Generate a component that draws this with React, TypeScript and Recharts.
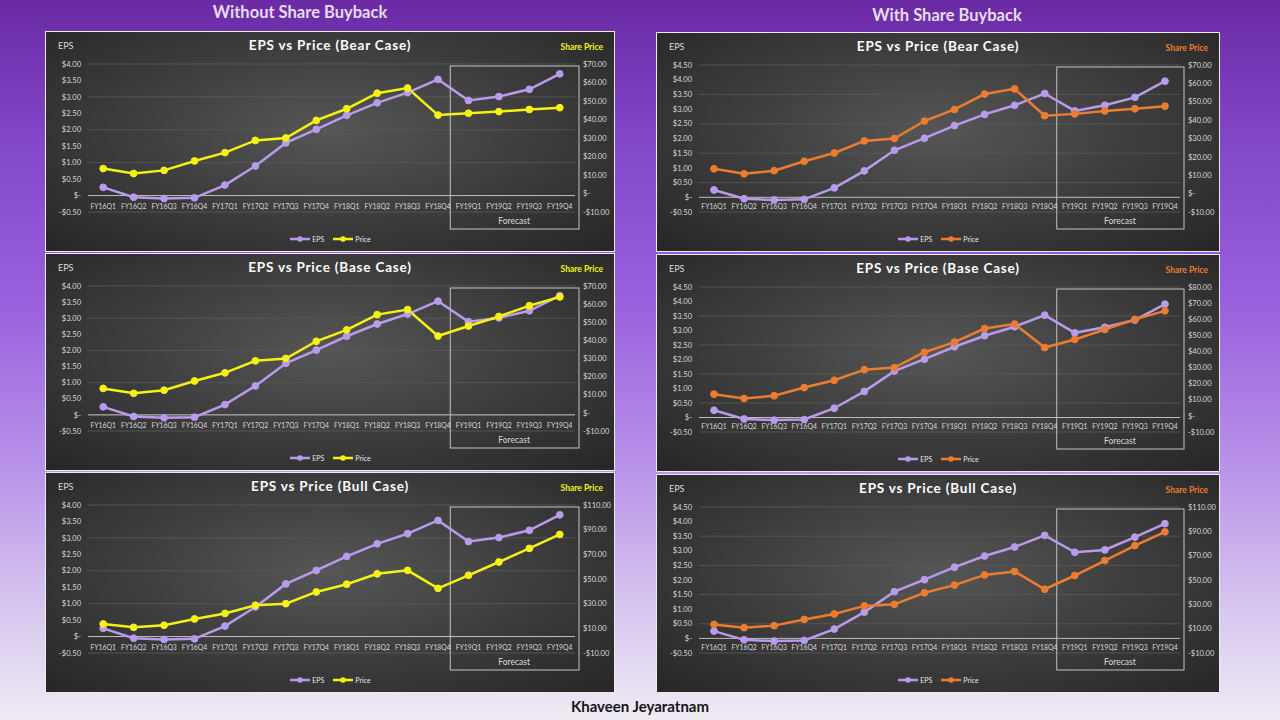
import React from 'react';
import {
  LineChart,
  Line,
  XAxis,
  YAxis,
  CartesianGrid,
  ReferenceLine,
  ReferenceArea,
} from 'recharts';

const quarters = [
  'FY16Q1', 'FY16Q2', 'FY16Q3', 'FY16Q4',
  'FY17Q1', 'FY17Q2', 'FY17Q3', 'FY17Q4',
  'FY18Q1', 'FY18Q2', 'FY18Q3', 'FY18Q4',
  'FY19Q1', 'FY19Q2', 'FY19Q3', 'FY19Q4',
];
const forecastStart = 'FY19Q1';
const forecastEnd = 'FY19Q4';

// without share buyback
const epsNoBuyback = [0.25, -0.05, -0.09, -0.07, 0.32, 0.9, 1.6, 2.01, 2.44, 2.82, 3.13, 3.53, 2.89, 3.01, 3.23, 3.7];
const priceBearNoBuyback = [13.5, 10.8, 12.5, 17.6, 22.1, 28.7, 30.0, 39.5, 45.8, 54.2, 57.0, 42.4, 43.4, 44.3, 45.4, 46.4];
const priceBaseNoBuyback = [13.5, 10.8, 12.5, 17.6, 22.1, 28.7, 30.0, 39.5, 45.8, 54.2, 57.0, 42.4, 47.9, 53.2, 59.1, 64.0];
const priceBullNoBuyback = [13.5, 10.8, 12.5, 17.6, 22.1, 28.7, 30.0, 39.5, 45.8, 54.2, 57.0, 42.4, 53.0, 63.8, 74.8, 86.1];

// with share buyback
const epsBearBuyback = [0.25, -0.05, -0.09, -0.07, 0.32, 0.9, 1.6, 2.01, 2.44, 2.82, 3.13, 3.53, 2.94, 3.13, 3.4, 3.95];
const epsBaseBuyback = [0.25, -0.05, -0.09, -0.07, 0.32, 0.9, 1.6, 2.01, 2.44, 2.82, 3.13, 3.53, 2.92, 3.11, 3.36, 3.91];
const epsBullBuyback = [0.25, -0.05, -0.09, -0.07, 0.32, 0.9, 1.6, 2.01, 2.44, 2.82, 3.13, 3.53, 2.95, 3.03, 3.47, 3.93];
const priceBearBuyback = [13.5, 10.8, 12.5, 17.6, 22.1, 28.7, 30.0, 39.5, 45.8, 54.2, 57.0, 42.4, 43.4, 45.0, 46.2, 47.6];
const priceBaseBuyback = [13.5, 10.8, 12.5, 17.6, 22.1, 28.7, 30.0, 39.5, 45.8, 54.2, 57.0, 42.4, 47.4, 53.6, 59.9, 65.2];
const priceBullBuyback = [13.5, 10.8, 12.5, 17.6, 22.1, 28.7, 30.0, 39.5, 45.8, 54.2, 57.0, 42.4, 53.7, 66.0, 78.3, 89.6];

// axis ticks
const epsTicks40 = [-0.5, 0, 0.5, 1, 1.5, 2, 2.5, 3, 3.5, 4];
const epsTicks45 = [-0.5, 0, 0.5, 1, 1.5, 2, 2.5, 3, 3.5, 4, 4.5];
const priceTicks70 = [-10, 0, 10, 20, 30, 40, 50, 60, 70];
const priceTicks80 = [-10, 0, 10, 20, 30, 40, 50, 60, 70, 80];
const priceTicks110 = [-10, 10, 30, 50, 70, 90, 110];

const FONT = 'Lato, "Open Sans", sans-serif';
const EPS_COLOR = '#B99BEC';
const YELLOW = '#F4F214';
const ORANGE = '#EC7C30';
const LABEL = '#d9d9d9';

const money = (v: number) => {
  if (v === 0) return '$-';
  if (v < 0) return `-$${Math.abs(v).toFixed(2)}`;
  return `$${v.toFixed(2)}`;
};

const panels = [
  { left: 45, top: 31, width: 570, height: 221, title: 'EPS vs Price (Bear Case)', eps: epsNoBuyback, price: priceBearNoBuyback, epsTicks: epsTicks40, priceTicks: priceTicks70, color: YELLOW },
  { left: 45, top: 253, width: 570, height: 218, title: 'EPS vs Price (Base Case)', eps: epsNoBuyback, price: priceBaseNoBuyback, epsTicks: epsTicks40, priceTicks: priceTicks70, color: YELLOW },
  { left: 45, top: 472, width: 570, height: 221, title: 'EPS vs Price (Bull Case)', eps: epsNoBuyback, price: priceBullNoBuyback, epsTicks: epsTicks40, priceTicks: priceTicks110, color: YELLOW },
  { left: 656, top: 32, width: 564, height: 220, title: 'EPS vs Price (Bear Case)', eps: epsBearBuyback, price: priceBearBuyback, epsTicks: epsTicks45, priceTicks: priceTicks70, color: ORANGE },
  { left: 656, top: 254, width: 564, height: 218, title: 'EPS vs Price (Base Case)', eps: epsBaseBuyback, price: priceBaseBuyback, epsTicks: epsTicks45, priceTicks: priceTicks80, color: ORANGE },
  { left: 656, top: 474, width: 564, height: 219, title: 'EPS vs Price (Bull Case)', eps: epsBullBuyback, price: priceBullBuyback, epsTicks: epsTicks45, priceTicks: priceTicks110, color: ORANGE },
];

function QuarterTick(props: any) {
  const { x, y, payload } = props;
  return (
    <text x={x} y={y} dy={-3} textAnchor="middle" fill={LABEL} fontSize={6.8} fontFamily={FONT}>
      {payload.value}
    </text>
  );
}

// box around the forecast quarters, a bit taller than the plot
function ForecastBox(props: any) {
  const { x, y, width, height } = props;
  return (
    <g>
      <rect x={x - 3} y={y + 2} width={width + 7} height={height + 15} fill="none" stroke="#c4c4c4" strokeWidth={1} />
      <text x={x + width / 2} y={y + height + 12} textAnchor="middle" fill={LABEL} fontSize={8.5} fontFamily={FONT}>
        Forecast
      </text>
    </g>
  );
}

function LegendItem({ color, label }: { color: string; label: string }) {
  return (
    <div style={{ display: 'flex', alignItems: 'center', gap: 1 }}>
      <svg width={22} height={8}>
        <line x1={1} y1={4} x2={21} y2={4} stroke={color} strokeWidth={2.5} />
        <circle cx={11} cy={4} r={2.8} fill={color} />
      </svg>
      <span>{label}</span>
    </div>
  );
}

function Panel(p: (typeof panels)[number]) {
  const rows = quarters.map((q, i) => ({ quarter: q, eps: p.eps[i], price: p.price[i] }));
  const w = p.width - 2;
  const h = p.height - 2;
  const epsMax = p.epsTicks[p.epsTicks.length - 1];
  const priceMax = p.priceTicks[p.priceTicks.length - 1];

  return (
    <div
      style={{
        position: 'absolute',
        left: p.left,
        top: p.top,
        width: p.width,
        height: p.height,
        boxSizing: 'border-box',
        border: '1px solid #ececec',
        background: 'radial-gradient(ellipse at 50% 45%, #565656 0%, #3b3b3b 55%, #262626 100%)',
        fontFamily: FONT,
        overflow: 'hidden',
      }}
    >
      <div style={{ position: 'absolute', left: 12, top: 8, fontSize: 9, color: LABEL }}>EPS</div>
      <div
        style={{
          position: 'absolute',
          left: 0,
          right: 0,
          top: 5,
          textAlign: 'center',
          fontSize: 13.5,
          fontWeight: 700,
          color: '#ffffff',
          letterSpacing: 0.8,
        }}
      >
        {p.title}
      </div>
      <div style={{ position: 'absolute', right: 11, top: 10, fontSize: 8.5, fontWeight: 700, color: p.color }}>
        Share Price
      </div>

      <LineChart width={w} height={h} data={rows} margin={{ top: 32, right: 3, bottom: 19, left: 4 }}>
        <CartesianGrid yAxisId="eps" vertical={false} stroke="#5a5a5a" strokeWidth={0.8} />
        <XAxis
          dataKey="quarter"
          scale="band"
          interval={0}
          axisLine={false}
          tickLine={false}
          tickSize={0}
          tickMargin={0}
          height={20}
          tick={<QuarterTick />}
        />
        <YAxis
          yAxisId="eps"
          orientation="left"
          width={38}
          domain={[-0.5, epsMax]}
          ticks={p.epsTicks}
          tickFormatter={money}
          axisLine={false}
          tickLine={false}
          tickSize={0}
          tickMargin={7}
          tick={{ fill: LABEL, fontSize: 7.5, fontFamily: FONT }}
        />
        <YAxis
          yAxisId="price"
          orientation="right"
          width={36}
          domain={[-10, priceMax]}
          ticks={p.priceTicks}
          tickFormatter={money}
          axisLine={false}
          tickLine={false}
          tickSize={0}
          tickMargin={8}
          tick={{ fill: LABEL, fontSize: 7.5, fontFamily: FONT, textAnchor: 'start' }}
        />
        <ReferenceLine yAxisId="eps" y={0} stroke="#bdbdbd" strokeWidth={1} />
        <ReferenceArea
          yAxisId="eps"
          x1={forecastStart}
          x2={forecastEnd}
          fill="none"
          shape={(sp: any) => <ForecastBox {...sp} />}
        />
        <Line
          yAxisId="eps"
          dataKey="eps"
          name="EPS"
          stroke={EPS_COLOR}
          strokeWidth={2.5}
          dot={{ r: 3.4, fill: EPS_COLOR, stroke: EPS_COLOR, strokeWidth: 1 }}
          isAnimationActive={false}
        />
        <Line
          yAxisId="price"
          dataKey="price"
          name="Price"
          stroke={p.color}
          strokeWidth={2.5}
          dot={{ r: 3.4, fill: p.color, stroke: p.color, strokeWidth: 1 }}
          isAnimationActive={false}
        />
      </LineChart>

      <div
        style={{
          position: 'absolute',
          left: 0,
          right: 0,
          bottom: 8,
          display: 'flex',
          justifyContent: 'center',
          gap: 8,
          fontSize: 7,
          color: '#e6e6e6',
        }}
      >
        <LegendItem color={EPS_COLOR} label="EPS" />
        <LegendItem color={p.color} label="Price" />
      </div>
    </div>
  );
}

export default function App() {
  return (
    <div
      style={{
        position: 'absolute',
        left: 0,
        top: 0,
        width: 1280,
        height: 720,
        overflow: 'hidden',
        fontFamily: FONT,
        background: 'linear-gradient(180deg, #6a2aa4 0%, #8347c9 20%, #9a60de 42%, #b993e9 65%, #dccff0 88%, #efebf4 100%)',
      }}
    >
      <div style={{ position: 'absolute', left: 150, width: 300, top: 2, textAlign: 'center', fontSize: 16.5, fontWeight: 700, color: '#e6dcf4' }}>
        Without Share Buyback
      </div>
      <div style={{ position: 'absolute', left: 797, width: 300, top: 5, textAlign: 'center', fontSize: 16.5, fontWeight: 700, color: '#e6dcf4' }}>
        With Share Buyback
      </div>

      {panels.map((p, i) => (
        <Panel key={i} {...p} />
      ))}

      <div style={{ position: 'absolute', left: 490, width: 300, top: 697, textAlign: 'center', fontSize: 15, fontWeight: 700, color: '#151515' }}>
        Khaveen Jeyaratnam
      </div>
    </div>
  );
}
